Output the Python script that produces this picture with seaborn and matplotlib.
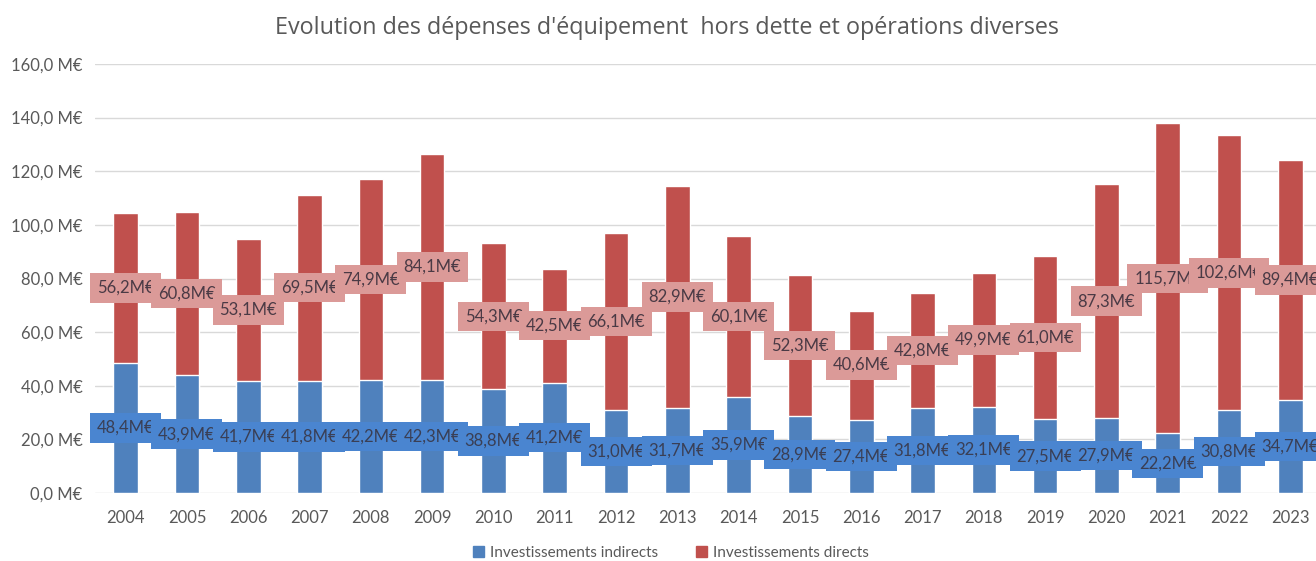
import matplotlib
matplotlib.use("Agg")
import matplotlib.pyplot as plt
from matplotlib.patches import Patch
import seaborn as sns
import pandas as pd
import numpy as np

years = [str(y) for y in range(2004, 2024)]
indirects = [48.4, 43.9, 41.7, 41.8, 42.2, 42.3, 38.8, 41.2, 31.0, 31.7,
             35.9, 28.9, 27.4, 31.8, 32.1, 27.5, 27.9, 22.2, 30.8, 34.7]
directs = [56.2, 60.8, 53.1, 69.5, 74.9, 84.1, 54.3, 42.5, 66.1, 82.9,
           60.1, 52.3, 40.6, 42.8, 49.9, 61.0, 87.3, 115.7, 102.6, 89.4]
yticks = [0, 20, 40, 60, 80, 100, 120, 140, 160]
title = "Evolution des dépenses d'équipement  hors dette et opérations diverses"
series_names = ["Investissements indirects", "Investissements directs"]

blue = "#4f81bd"
red = "#c0504d"
blue_box = "#4a85d0"
red_box = "#db9a98"
grey = "#595959"

sns.set_theme(style="white")
plt.rcParams['font.family'] = ['Lato', 'DejaVu Sans']

df = pd.DataFrame({"year": years, "ind": indirects, "dir": directs})
df["total"] = df["ind"] + df["dir"]

W, H = 1316, 561
fig = plt.figure(figsize=(W / 100, H / 100), dpi=100)
ax = fig.add_axes([95 / W, 1 - 493 / H, (1321 - 95) / W, (493 - 64) / H])

sns.barplot(data=df, x="year", y="total", color=red, width=0.4, ax=ax,
            saturation=1, zorder=2)
sns.barplot(data=df, x="year", y="ind", color=blue, width=0.4, ax=ax,
            saturation=1, zorder=3)

ax.set_ylim(0, 160)
ax.set_xlim(-0.5, len(years) - 0.5)
ax.set_yticks(yticks)
ax.set_yticklabels([f"{v:.1f}".replace(".", ",") + " M€" for v in yticks])
ax.grid(axis="y", color="#d9d9d9", linewidth=1, zorder=0)
ax.set_axisbelow(True)
for s in ax.spines.values():
    s.set_visible(False)
ax.set_xlabel("")
ax.set_ylabel("")
ax.tick_params(axis="y", length=0, pad=9, labelsize=12, labelcolor=grey)
ax.tick_params(axis="x", length=0, pad=12, labelsize=12, labelcolor=grey)

def fmt(v):
    return f"{v:.1f}".replace(".", ",") + "M€"

z = 5
for i, v in enumerate(indirects):
    ax.text(i, v / 2, fmt(v), ha="center", va="center", fontsize=12,
            color="#3a3f55", zorder=z + i, clip_on=False,
            bbox=dict(boxstyle="square,pad=0.4", fc=blue_box, ec="none"))
z = 40
for i, (a, b) in enumerate(zip(indirects, directs)):
    ax.text(i, a + b / 2, fmt(b), ha="center", va="center", fontsize=12,
            color="#4a3a45", zorder=z + i, clip_on=False,
            bbox=dict(boxstyle="square,pad=0.4", fc=red_box, ec="none"))

fig.text(667 / W, 1 - 28 / H, title, ha="center", va="center",
         fontsize=16.8, color=grey, family=["Open Sans", "DejaVu Sans"])

handles = [Patch(color=blue, label=series_names[0]),
           Patch(color=red, label=series_names[1])]
fig.legend(handles=handles, loc="center", bbox_to_anchor=(671 / W, 1 - 553 / H),
           ncol=2, frameon=False, fontsize=11, labelcolor=grey,
           handlelength=0.7, handleheight=0.7, handletextpad=0.4,
           columnspacing=2.5)

fig.savefig("out.png", dpi=100)
